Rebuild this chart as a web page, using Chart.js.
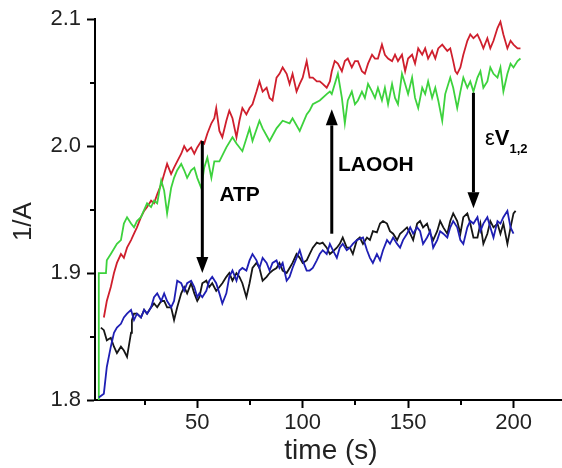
<!DOCTYPE html>
<html>
<head>
<meta charset="utf-8">
<script src="https://cdn.jsdelivr.net/npm/chart.js@4.4.0/dist/chart.umd.min.js"></script>
<style>
  html, body { margin: 0; padding: 0; background: #fff; }
</style>
</head>
<body>
<canvas id="chart" width="562" height="468"></canvas>
<script>
// ---- data: time (s) vs 1/A ----
var redT = [5.7,7.1,9.0,10.5,11.9,13.8,15.2,16.7,18.6,20.0,21.4,23.3,24.8,26.2,28.1,29.5,31.0,32.9,34.3,35.7,37.6,39.0,40.5,42.4,43.8,45.2,47.1,48.6,50.0,51.9,53.3,54.8,56.7,58.1,
  59.0,60.5,61.9,63.8,65.2,66.7,68.6,70.0,71.4,73.3,74.8,76.2,78.1,79.5,81.0,82.9,84.3,85.7,87.6,89.0,90.5,92.4,93.8,95.2,97.1,98.6,100.0,101.9,103.3,104.8,106.7,108.1,109.5,111.4,112.9,
  113.8,115.2,116.7,118.6,120.0,121.4,123.3,124.8,126.2,128.1,129.5,131.0,132.9,134.3,135.7,137.6,139.0,140.5,142.4,143.8,145.2,147.1,148.6,150.0,151.9,153.3,154.8,156.7,158.1,159.5,161.4,162.9,164.3,166.2,167.6,
  168.6,170.0,171.4,172.4,173.3,174.8,176.2,178.1,179.5,181.0,182.9,184.3,185.7,187.6,189.0,190.5,192.4,193.8,195.2,197.1,198.6,200.0,201.9,203.3];
var redV = [1.865,1.878,1.889,1.900,1.908,1.915,1.912,1.920,1.926,1.931,1.936,1.944,1.949,1.952,1.957,1.955,1.962,1.970,1.978,1.986,1.978,1.983,1.988,1.994,2.000,1.996,1.999,1.994,1.999,2.004,2.002,2.010,2.018,2.022,
  2.030,2.012,2.007,2.020,2.028,2.022,2.007,2.020,2.030,2.025,2.030,2.033,2.043,2.051,2.043,2.046,2.038,2.036,2.054,2.057,2.062,2.057,2.049,2.057,2.043,2.049,2.054,2.067,2.054,2.054,2.051,2.051,2.049,2.046,2.051,
  2.059,2.067,2.065,2.059,2.067,2.069,2.062,2.067,2.067,2.059,2.057,2.065,2.072,2.069,2.069,2.080,2.072,2.069,2.067,2.072,2.067,2.072,2.059,2.069,2.072,2.065,2.077,2.072,2.077,2.069,2.075,2.069,2.077,2.080,2.077,
  2.075,2.077,2.067,2.059,2.057,2.062,2.072,2.083,2.088,2.085,2.088,2.083,2.077,2.085,2.077,2.083,2.093,2.098,2.088,2.077,2.083,2.080,2.077,2.077];

var greenT = [3.0,3.3,6.7,7.1,9.0,11.9,13.8,15.2,16.7,18.6,20.0,21.4,23.3,26.2,28.1,29.5,31.0,32.9,34.3,35.7,37.6,39.0,40.5,42.4,43.8,45.2,47.1,48.6,50.0,51.9,53.3,54.8,56.7,58.1,
  60.5,63.8,66.7,68.6,71.4,74.8,76.2,79.5,81.0,84.3,87.6,90.5,93.8,95.2,98.6,101.9,103.3,104.8,108.1,111.4,112.9,
  113.8,116.7,118.6,120.0,121.4,123.3,124.8,126.2,128.1,129.5,131.0,132.9,134.3,135.7,137.6,139.0,140.5,142.4,143.8,145.2,147.1,148.6,150.0,151.9,153.3,154.8,156.7,158.1,159.5,161.4,162.9,164.3,166.2,167.6,
  170.0,171.4,173.3,174.8,176.2,178.1,179.5,181.0,182.9,184.3,185.7,187.6,189.0,190.5,192.4,193.8,195.2,197.1,198.6,200.0,201.9,203.3];
var greenV = [1.800,1.900,1.900,1.910,1.915,1.923,1.926,1.939,1.944,1.939,1.936,1.941,1.944,1.955,1.952,1.957,1.955,1.973,1.965,1.947,1.967,1.975,1.981,1.986,1.981,1.975,1.981,1.983,1.975,1.967,1.983,1.991,1.975,1.988,
  1.988,1.999,2.007,2.002,1.996,2.014,2.004,2.020,2.014,2.004,2.014,2.020,2.018,2.022,2.012,2.025,2.028,2.033,2.036,2.041,2.043,
  2.041,2.057,2.038,2.018,2.036,2.043,2.033,2.036,2.043,2.038,2.049,2.043,2.038,2.046,2.036,2.046,2.033,2.049,2.038,2.033,2.057,2.049,2.041,2.054,2.038,2.030,2.046,2.041,2.051,2.038,2.046,2.036,2.020,2.041,
  2.054,2.046,2.030,2.043,2.054,2.046,2.051,2.043,2.054,2.059,2.046,2.051,2.062,2.057,2.054,2.062,2.043,2.057,2.065,2.062,2.067,2.069];

var blackT = [4.3,5.7,7.1,9.0,10.5,11.9,13.8,15.2,16.7,18.6,19.0,20.0,21.4,23.3,24.8,26.2,28.1,29.5,31.0,32.9,34.3,35.7,37.6,39.0,40.5,42.4,43.8,45.2,47.1,48.6,
  50.0,51.0,52.4,54.3,55.7,57.1,59.0,60.5,61.9,63.8,65.2,66.7,68.6,70.0,71.4,73.3,74.8,76.2,78.1,79.5,81.0,82.9,84.3,85.7,87.6,89.0,90.5,92.4,93.8,95.2,
  97.1,98.6,100.0,101.9,103.3,104.8,106.7,108.1,109.5,111.4,112.9,114.3,116.2,117.6,119.0,120.9,122.4,123.8,125.7,127.1,128.6,130.5,131.9,133.3,135.2,
  136.7,138.1,140.0,141.4,142.9,144.8,146.2,147.6,149.5,151.0,152.4,154.3,155.7,157.1,159.0,160.5,161.9,163.8,165.2,166.7,168.6,170.0,171.4,173.3,174.8,
  176.2,178.1,179.5,181.0,182.9,184.3,185.7,187.6,189.0,190.5,192.4,193.8,195.2,197.1,198.6,200.0,201.0];
var blackV = [1.857,1.855,1.847,1.849,1.842,1.837,1.842,1.839,1.834,1.853,1.863,1.868,1.868,1.865,1.871,1.868,1.873,1.876,1.873,1.878,1.878,1.873,1.873,1.863,1.873,1.884,1.889,1.884,1.892,1.884,
  1.878,1.881,1.892,1.894,1.889,1.892,1.886,1.889,1.892,1.897,1.900,1.894,1.900,1.897,1.892,1.881,1.892,1.904,1.908,1.904,1.894,1.897,1.900,1.902,1.904,1.908,1.902,1.900,1.904,1.908,
  1.915,1.912,1.908,1.910,1.915,1.920,1.924,1.923,1.924,1.920,1.915,1.917,1.920,1.923,1.928,1.920,1.920,1.915,1.926,1.928,1.923,1.928,1.926,1.933,1.932,
  1.939,1.941,1.939,1.933,1.931,1.926,1.931,1.933,1.936,1.931,1.926,1.939,1.941,1.936,1.939,1.931,1.926,1.933,1.941,1.936,1.931,1.941,1.947,1.941,1.931,
  1.944,1.947,1.939,1.928,1.928,1.939,1.923,1.931,1.941,1.936,1.939,1.931,1.939,1.923,1.936,1.947,1.949];

var blueT = [3.3,5.7,7.1,9.0,10.5,11.9,13.8,15.2,16.7,18.6,20.0,21.4,23.3,24.8,26.2,28.1,29.5,31.0,32.9,34.3,35.7,37.6,39.0,40.5,42.4,43.8,45.2,47.1,48.6,
  50.0,51.0,52.4,54.3,55.7,57.1,59.0,60.5,61.9,63.8,65.2,66.7,68.6,70.0,71.4,73.3,74.8,76.2,78.1,79.5,81.0,82.9,84.3,85.7,87.6,89.0,90.5,92.4,93.8,95.2,
  97.1,98.6,100.0,101.9,103.3,104.8,106.7,108.1,109.5,111.4,112.9,114.3,116.2,117.6,119.0,120.9,122.4,123.8,125.7,127.1,128.6,130.5,131.9,133.3,135.2,
  136.7,138.1,140.0,141.4,142.9,144.8,146.2,147.6,149.5,151.0,152.4,154.3,155.7,157.1,159.0,160.5,161.9,163.8,165.2,166.7,168.6,170.0,171.4,173.3,174.8,
  176.2,178.1,179.5,181.0,182.9,184.3,185.7,187.6,189.0,190.5,192.4,193.8,195.2,197.1,198.6,200.0];
var blueV = [1.802,1.805,1.826,1.842,1.853,1.857,1.860,1.865,1.868,1.871,1.863,1.868,1.865,1.871,1.868,1.873,1.881,1.884,1.878,1.884,1.878,1.873,1.878,1.894,1.892,1.886,1.892,1.894,1.889,
  1.881,1.884,1.881,1.886,1.894,1.897,1.892,1.884,1.876,1.884,1.897,1.902,1.894,1.902,1.904,1.902,1.910,1.915,1.910,1.904,1.912,1.908,1.902,1.908,1.910,1.904,1.908,1.894,1.897,1.904,
  1.912,1.918,1.910,1.902,1.902,1.904,1.910,1.915,1.918,1.915,1.923,1.918,1.912,1.920,1.923,1.918,1.920,1.923,1.926,1.927,1.928,1.918,1.912,1.908,1.915,
  1.910,1.918,1.926,1.923,1.928,1.923,1.920,1.926,1.931,1.936,1.931,1.936,1.933,1.923,1.928,1.933,1.920,1.926,1.933,1.931,1.928,1.936,1.941,1.936,1.926,
  1.923,1.936,1.941,1.939,1.944,1.933,1.939,1.944,1.936,1.928,1.941,1.939,1.944,1.949,1.936,1.931];

var xTicks = [25, 50, 75, 100, 125, 150, 175, 200];
var yTicks = [1.8, 1.85, 1.9, 1.95, 2.0, 2.05, 2.1];

// arrows and labels, in data units (time, 1/A)
var arrows = [
  { t: 52.4,  from: 2.004, to: 1.900 },
  { t: 113.8, from: 1.931, to: 2.029 },
  { t: 181.0, from: 2.042, to: 1.951 }
];
var labels = [
  { t: 60.5,  v: 1.961, text: 'ATP' },
  { t: 116.7, v: 1.985, text: 'LAOOH' }
];
var epsLabel = { t: 186.5, v: 2.006 };

var FONT = '"Liberation Sans", Arial, Helvetica, sans-serif';

function pts(ts, vs) {
  return ts.map(function (t, i) { return { x: t, y: vs[i] }; });
}

function isMajorX(v) { return v % 50 === 0; }
function isMajorY(v) { return Math.round(v * 100) % 10 === 0; }

var extras = {
  id: 'extras',
  afterDatasetsDraw: function (chart) {
    var ctx = chart.ctx, xs = chart.scales.x, ys = chart.scales.y;
    ctx.save();
    // arrows
    ctx.strokeStyle = '#000';
    ctx.fillStyle = '#000';
    ctx.lineWidth = 3;
    arrows.forEach(function (a) {
      var x = xs.getPixelForValue(a.t);
      var y1 = ys.getPixelForValue(a.from);
      var y2 = ys.getPixelForValue(a.to);
      var dir = y2 > y1 ? 1 : -1;
      var head = 16, half = 6;
      ctx.beginPath();
      ctx.moveTo(x, y1);
      ctx.lineTo(x, y2 - dir * head);
      ctx.stroke();
      ctx.beginPath();
      ctx.moveTo(x, y2);
      ctx.lineTo(x - half, y2 - dir * head);
      ctx.lineTo(x + half, y2 - dir * head);
      ctx.closePath();
      ctx.fill();
    });
    // labels
    ctx.textBaseline = 'middle';
    ctx.textAlign = 'left';
    ctx.font = 'bold 21px ' + FONT;
    labels.forEach(function (l) {
      ctx.fillText(l.text, xs.getPixelForValue(l.t), ys.getPixelForValue(l.v));
    });
    var ex = xs.getPixelForValue(epsLabel.t), ey = ys.getPixelForValue(epsLabel.v);
    ctx.font = '22px ' + FONT;
    ctx.fillText('\u03b5', ex, ey);
    ex += ctx.measureText('\u03b5').width;
    ctx.font = 'bold 22px ' + FONT;
    ctx.fillText('V', ex, ey);
    ex += ctx.measureText('V').width;
    ctx.font = 'bold 13px ' + FONT;
    ctx.fillText('1,2', ex, ey + 11);
    ctx.restore();
  },
  afterDraw: function (chart) {
    var ctx = chart.ctx, xs = chart.scales.x, ys = chart.scales.y, area = chart.chartArea;
    ctx.save();
    // minor ticks
    ctx.strokeStyle = '#000';
    ctx.lineWidth = 2;
    xTicks.filter(function (v) { return !isMajorX(v); }).forEach(function (v) {
      var x = Math.round(xs.getPixelForValue(v));
      ctx.beginPath(); ctx.moveTo(x, area.bottom); ctx.lineTo(x, area.bottom + 5); ctx.stroke();
    });
    yTicks.filter(function (v) { return !isMajorY(v); }).forEach(function (v) {
      var y = Math.round(ys.getPixelForValue(v));
      ctx.beginPath(); ctx.moveTo(area.left, y); ctx.lineTo(area.left - 5, y); ctx.stroke();
    });
    // axis titles
    ctx.fillStyle = '#222';
    ctx.textAlign = 'center';
    ctx.textBaseline = 'middle';
    ctx.font = '28px ' + FONT;
    ctx.fillText('time (s)', 331, 451);
    ctx.font = '26px ' + FONT;
    ctx.translate(24, (area.top + area.bottom) / 2 + 12);
    ctx.rotate(-Math.PI / 2);
    ctx.fillText('1/A', 0, 0);
    ctx.restore();
  }
};

var lineDefaults = { borderWidth: 1.8, pointRadius: 0, tension: 0, fill: false };

new Chart(document.getElementById('chart'), {
  type: 'line',
  data: {
    datasets: [
      Object.assign({ label: 'blue',  data: pts(blueT, blueV),   borderColor: '#1f1fb4' }, lineDefaults),
      Object.assign({ label: 'black', data: pts(blackT, blackV), borderColor: '#161616' }, lineDefaults),
      Object.assign({ label: 'green', data: pts(greenT, greenV), borderColor: '#3dd23d' }, lineDefaults),
      Object.assign({ label: 'red',   data: pts(redT, redV),     borderColor: '#cf1f2d' }, lineDefaults)
    ]
  },
  options: {
    responsive: false,
    animation: false,
    layout: { padding: { top: 18, right: 0, left: 0, bottom: 0 } },
    plugins: { legend: { display: false }, tooltip: { enabled: false } },
    scales: {
      x: {
        type: 'linear',
        min: 1.5,
        max: 223,
        afterBuildTicks: function (s) { s.ticks = xTicks.map(function (v) { return { value: v }; }); },
        afterFit: function (s) { s.height = 68; },
        ticks: {
          autoSkip: false, maxRotation: 0, padding: 2, color: '#222',
          font: { size: 22, family: FONT },
          callback: function (v) { return isMajorX(v) ? String(v) : ''; }
        },
        grid: {
          drawOnChartArea: false, drawTicks: true, tickLength: 8, tickWidth: 2,
          tickColor: function (c) { return c.tick && isMajorX(c.tick.value) ? '#000' : 'rgba(0,0,0,0)'; }
        },
        border: { display: true, color: '#000', width: 2 }
      },
      y: {
        type: 'linear',
        min: 1.8,
        max: 2.1,
        afterBuildTicks: function (s) { s.ticks = yTicks.map(function (v) { return { value: v }; }); },
        afterFit: function (s) { s.width = 95; },
        ticks: {
          autoSkip: false, padding: 6, color: '#222',
          font: { size: 22, family: FONT },
          callback: function (v) { return isMajorY(v) ? v.toFixed(1) : ''; }
        },
        grid: {
          drawOnChartArea: false, drawTicks: true, tickLength: 8, tickWidth: 2,
          tickColor: function (c) { return c.tick && isMajorY(c.tick.value) ? '#000' : 'rgba(0,0,0,0)'; }
        },
        border: { display: true, color: '#000', width: 2 }
      }
    }
  },
  plugins: [extras]
});
</script>
</body>
</html>
